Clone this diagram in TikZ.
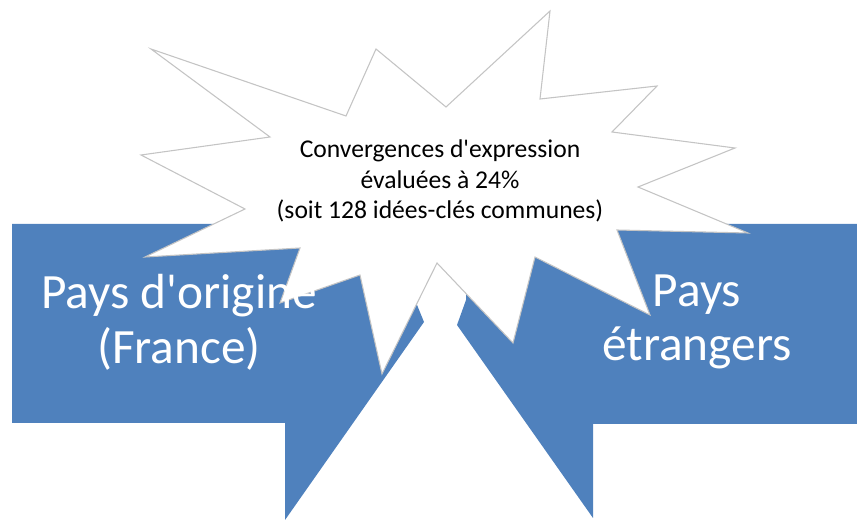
\documentclass[tikz,border=0pt]{standalone}
\usepackage{fontspec}
\setmainfont{Carlito}
\usepackage{tikz}
\usepackage{tkz-euclide}
\usepackage{xcolor}
\definecolor{calloutblue}{HTML}{4F81BD}
\definecolor{burstgray}{HTML}{C4C4C4}

\begin{document}
\begin{tikzpicture}[x=0.75pt, y=0.75pt,
    burst/.style={fill=white, draw=burstgray, line width=0.8pt, line join=miter},
    boxtext/.style={text=white, align=center, font=\fontsize{37}{41}\selectfont},
    bursttext/.style={text=black, align=center, font=\fontsize{19.2}{23}\selectfont}]
            \useasboundingbox (0,0) rectangle (857,521);
            % left callout
            \tkzDefPoints{12/297/L1, 415/297/L2, 415/221/L3, 424/199/L4, 285/1/L5, 285/98/L6, 12/98/L7}
            % right callout
            \tkzDefPoints{857/297/R1, 466/297/R2, 466/221/R3, 457/196/R4, 593/3/R5, 593/97/R6, 857/97/R7}
            % starburst
            \tkzDefPoints{550/510/S1, 540/422/S2, 657/435/S3, 612/389/S4, 735/373/S5, 638/334/S6,
                          748/288/S7, 617/291/S8, 650/206/S9, 535/264/S10, 513/178/S11, 437/258/S12,
                          382/147/S13, 360/246/S14, 280/218/S15, 300/273/S16, 145/264/S17, 245/312/S18,
                          141/366/S19, 270/384/S20, 151/472/S21, 346/405/S22, 376/472/S23, 446/414/S24}
            \tkzFillPolygon[calloutblue](L1,L2,L3,L4,L5,L6,L7)
            \tkzFillPolygon[calloutblue](R1,R2,R3,R4,R5,R6,R7)
            \tkzDrawPolygon[burst](S1,S2,S3,S4,S5,S6,S7,S8,S9,S10,S11,S12,S13,S14,S15,S16,S17,S18,S19,S20,S21,S22,S23,S24)
            \node[boxtext] (origine) at (179,199) {Pays d\textquotesingle origine\\(France)};
            \node[boxtext] (etrangers) at (697,199) {Pays\\étrangers};
            \node[bursttext] (convergences) at (440,340) {Convergences d\textquotesingle expression\\évaluées à 24\%\\(soit 128 idées-clés communes)};
        \end{tikzpicture}
\end{document}
